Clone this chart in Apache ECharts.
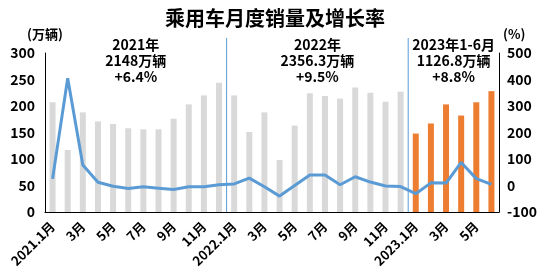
<!DOCTYPE html>
<html><head><meta charset="utf-8">
<script src="https://cdn.jsdelivr.net/npm/echarts@6/dist/echarts.min.js"></script>
<style>html,body{margin:0;padding:0;background:#fff}#c{width:550px;height:277px}</style>
</head><body><div id="c"></div>
<script>
const categories = ['2021.1月','2月','3月','4月','5月','6月','7月','8月','9月','10月','11月','12月',
  '2022.1月','2月','3月','4月','5月','6月','7月','8月','9月','10月','11月','12月',
  '2023.1月','2月','3月','4月','5月','6月'];
const sales2021_2022 = [207,117,188,171,166,158,156,156,176,203,220,244,
  220,151,188,98,163,224,219,214,235,225,208,227];
const sales2023 = [148,167,203,182,207,228];
const growthRate = [25,405,77,12,-3,-11,-5,-10,-15,-5,-5,3,
  6,28,-5,-40,0,40,40,3,33,13,-2,-4,
  -31,10,9,87,26,4];
const leftTicks = [0,50,100,150,200,250,300];
const rightTicks = [-100,0,100,200,300,400,500];
const notes = [
  {text:'2021年\n2148万辆\n+6.4%', cat:5.5},
  {text:'2022年\n2356.3万辆\n+9.5%', cat:17.5},
  {text:'2023年1-6月\n1126.8万辆\n+8.8%', cat:26.5}
];

const font = '"Noto Sans CJK SC", "Noto Sans", sans-serif';
const greyData = categories.map((c,i)=> i < sales2021_2022.length ? sales2021_2022[i] : '-');
const orangeData = categories.map((c,i)=> i >= sales2021_2022.length ? sales2023[i-sales2021_2022.length] : '-');

const chart = echarts.init(document.getElementById('c'));
chart.setOption({
  animation:false,
  backgroundColor:'#fff',
  title:{text:'乘用车月度销量及增长率', left:'center', top:3,
    textStyle:{fontFamily:font, fontSize:20, fontWeight:'bold', color:'#000'}},
  grid:{left:45, right:51, top:53, bottom:65},
  xAxis:{type:'category', data:categories,
    axisLine:{lineStyle:{color:'#000', width:1}},
    axisTick:{show:false},
    axisLabel:{interval:1, rotate:45, fontFamily:font, fontSize:13, fontWeight:'bold', color:'#000', margin:12}},
  yAxis:[
    {type:'value', min:leftTicks[0], max:leftTicks[leftTicks.length-1], interval:50,
     name:'(万辆)', nameLocation:'end', nameGap:12,
     nameTextStyle:{fontFamily:font, fontSize:13, fontWeight:'bold', color:'#000', align:'center', padding:[0,0,0,0]},
     axisLine:{show:true, lineStyle:{color:'#000'}}, axisTick:{show:false}, splitLine:{show:false},
     axisLabel:{fontFamily:font, fontSize:14, fontWeight:'bold', color:'#000', margin:10}},
    {type:'value', min:rightTicks[0], max:rightTicks[rightTicks.length-1], interval:100,
     name:'(%)', nameLocation:'end', nameGap:12,
     nameTextStyle:{fontFamily:font, fontSize:13, fontWeight:'bold', color:'#000', align:'left', padding:[0,0,0,4]},
     axisLine:{show:true, lineStyle:{color:'#000'}}, axisTick:{show:false}, splitLine:{show:false},
     axisLabel:{fontFamily:font, fontSize:14, fontWeight:'bold', color:'#000', margin:8}}
  ],
  series:[
    {type:'bar', stack:'s', data:greyData, barWidth:6, itemStyle:{color:'#D9D9D9'}},
    {type:'bar', stack:'s', data:orangeData, barWidth:6, itemStyle:{color:'#ED7D31'}},
    {type:'line', yAxisIndex:1, data:growthRate, symbol:'none', z:5,
     lineStyle:{color:'#5B9BD5', width:3}}
  ]
});

function px(i){ return chart.convertToPixel({xAxisIndex:0}, i); }
const base = chart.convertToPixel({yAxisIndex:0}, 0);
const graphics = [];
[12, 24].forEach(k=>{
  const x = (px(k-1)+px(k))/2;
  graphics.push({type:'line', shape:{x1:x, y1:38, x2:x, y2:base}, style:{stroke:'#5B9BD5', lineWidth:1}, z:10});
});
notes.forEach(n=>{
  const i0 = Math.floor(n.cat), f = n.cat - i0;
  const x = px(i0)*(1-f) + px(i0+1)*f;
  graphics.push({type:'text', x:x, y:37, z:10,
    style:{text:n.text, fontFamily:font, fontSize:14, fontWeight:'bold', fill:'#000',
      textAlign:'center', textVerticalAlign:'top', lineHeight:16}});
});
chart.setOption({graphic:graphics});
</script></body></html>
